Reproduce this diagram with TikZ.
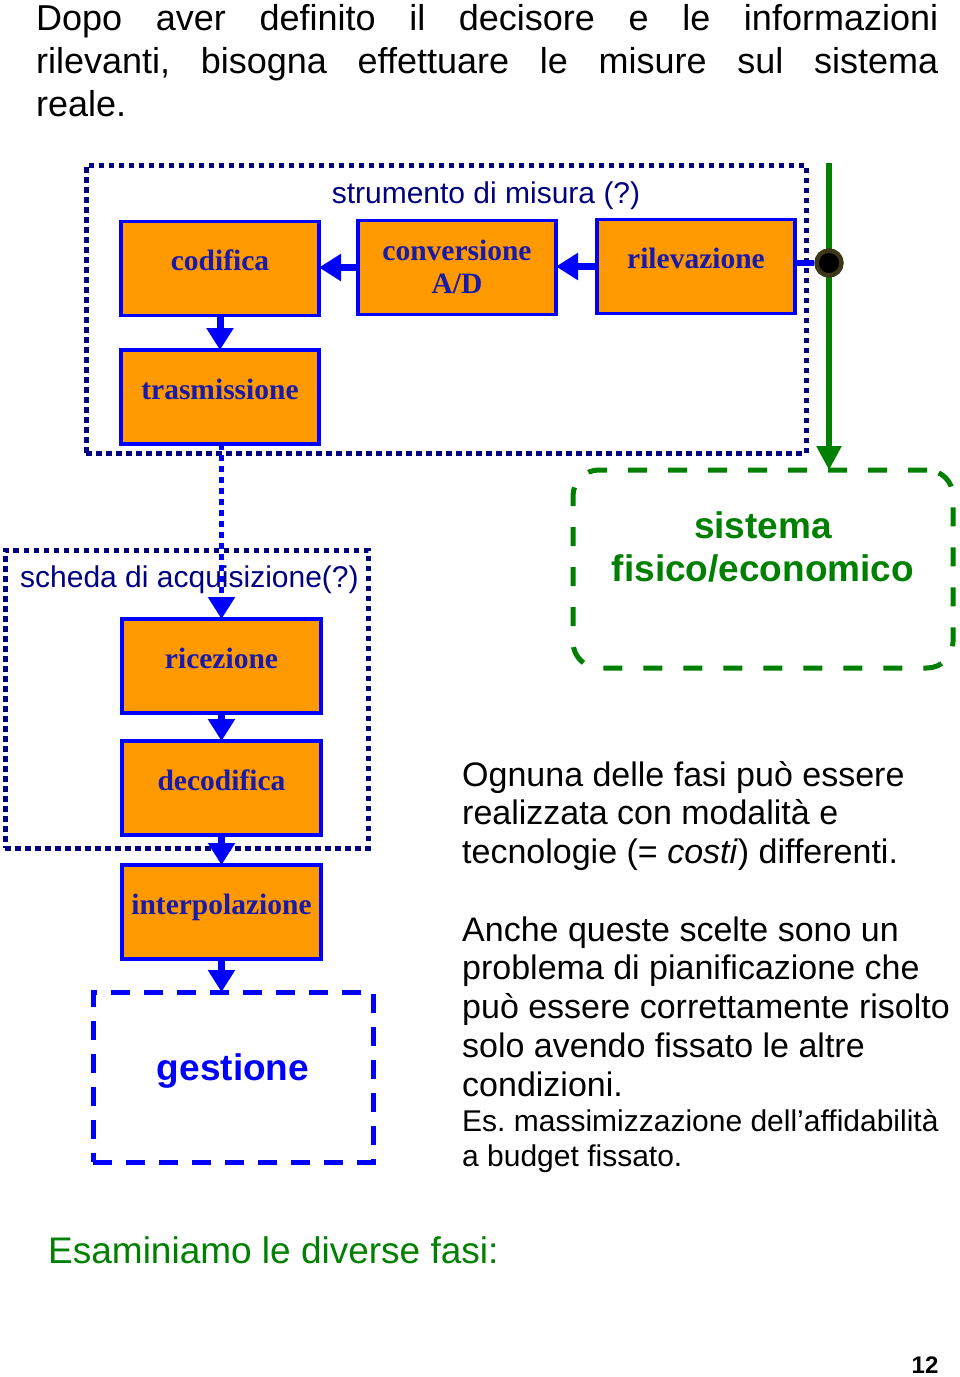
\documentclass[tikz,border=0pt]{standalone}
\usepackage{fontspec}
\setmainfont{Liberation Sans}
\newfontfamily\serifb{Liberation Serif}
\usetikzlibrary{arrows.meta,calc}
\definecolor{orangebox}{RGB}{255,153,0}
\definecolor{bblue}{RGB}{0,0,255}
\definecolor{navy}{RGB}{0,0,128}
\definecolor{boxtxt}{RGB}{25,25,170}
\definecolor{ggreen}{RGB}{0,128,0}
\definecolor{olivedark}{RGB}{60,55,25}
\frenchspacing
\begin{document}
\begin{tikzpicture}[x=1pt,y=-1pt,
  phase/.style={draw=bblue, line width=3.5pt, fill=orangebox,
    minimum width=198pt, minimum height=94pt, inner sep=0pt, outer sep=0pt,
    text=boxtxt, font=\serifb\bfseries\fontsize{29.5}{33}\selectfont,
    align=center, text height=20pt, text depth=16pt},
  flow/.style={draw=bblue, line width=7pt, -{Triangle[length=22pt,width=26pt]}},
  dotflow/.style={draw=bblue, line width=5.5pt, dash pattern=on 6pt off 5pt,
    -{Triangle[length=22pt,width=26pt]}},
  mframe/.style={draw=navy, line width=5pt, dash pattern=on 5.5pt off 4.5pt,
    inner sep=0pt, outer sep=0pt},
  gframe/.style={draw=ggreen, line width=5pt, dash pattern=on 19pt off 21pt,
    rounded corners=26pt, inner sep=0pt, outer sep=0pt},
  bframe/.style={draw=bblue, line width=5pt, dash pattern=on 19pt off 14pt,
    inner sep=0pt, outer sep=0pt},
  framelabel/.style={text=navy, font=\fontsize{30}{34}\selectfont, inner sep=0pt},
  bodytext/.style={font=\fontsize{34}{38.5}\selectfont, align=left, inner sep=0pt, anchor=base west},
]
\useasboundingbox[fill=white] (0,0) rectangle (960,1377);

% intro
\node[anchor=base west, text width=902pt, align=justify, inner sep=0pt,
  font=\fontsize{36}{43}\selectfont] (intro) at (36,30)
  {Dopo aver definito il decisore e le informazioni\linebreak rilevanti, bisogna effettuare le misure sul sistema\linebreak reale.};

% frames
\node[mframe, minimum width=720pt, minimum height=288pt] (strum) at (446,309) {};
\node[mframe, minimum width=363pt, minimum height=298pt] (scheda) at (186.5,699) {};
\node[framelabel, anchor=base] (strumlab) at (486,203) {strumento di misura (?)};
\node[framelabel, anchor=base west] (schedalab) at (20,587) {scheda di acquisizione(?)};

% phases
\node[phase] (cod) at (220,268.5) {codifica};
\node[phase, text height=55pt, text depth=4pt] (conv) at (457,267.5) {conversione\\A/D};
\node[phase] (ril) at (696,266.5) {rilevazione};
\node[phase] (tras) at (220,397) {trasmissione};
\node[phase, minimum width=199pt] (ric) at (221.5,666) {ricezione};
\node[phase, minimum width=199pt] (dec) at (221.5,788) {decodifica};
\node[phase, minimum width=199pt] (interp) at (221.5,912) {interpolazione};

% gestione
\node[bframe, minimum width=280pt, minimum height=170pt, text=bblue,
  font=\bfseries\fontsize{37}{42}\selectfont, text height=20pt, text depth=14pt]
  (gest) at (233,1077) {gestione};

% sistema
\node[gframe, minimum width=380pt, minimum height=198pt, text=ggreen, align=center,
  font=\bfseries\fontsize{37}{43}\selectfont, text height=40pt, text depth=16pt]
  (sys) at (763,569) {sistema\\fisico/economico};

% green line and sensor
\coordinate (gtop) at (829,163);
\draw[ggreen, line width=5.5pt, -{Triangle[length=24pt,width=24pt]}] (gtop) -- (gtop |- sys.north);
\node[circle, minimum size=25pt, inner sep=0pt, fill=black, draw=olivedark, line width=4.5pt] (sensor) at (829,263) {};
\draw[bblue, line width=6pt] (ril.east |- sensor.center) -- (sensor.west);

% flows
\draw[flow] (conv.west) -- (conv.west -| cod.east);
\draw[flow] (ril.west) -- (ril.west -| conv.east);
\draw[flow] (cod.south) -- (tras.north);
\draw[dotflow] (tras.south -| ric.north) -- (ric.north);
\draw[flow] (ric.south) -- (dec.north);
\draw[flow] (dec.south) -- (interp.north);
\draw[flow] (interp.south) -- (interp.south |- gest.north);

% right text (base anchor = baseline of last line)
\node[bodytext] (p1) at (462,863) {Ognuna delle fasi può essere\\realizzata con modalità e\\tecnologie (= \textit{costi}) differenti.};
\node[bodytext, font=\fontsize{34}{38.75}\selectfont] (p2) at (462,1096) {Anche queste scelte sono un\\problema di pianificazione che\\può essere correttamente risolto\\solo avendo fissato le altre\\condizioni.};
\node[bodytext, font=\fontsize{30}{35}\selectfont] (p3) at (462,1166) {Es. massimizzazione dell’affidabilità\\a budget fissato.};

% footer
\node[anchor=base west, inner sep=0pt, text=ggreen, font=\fontsize{37}{42}\selectfont] (exam) at (48,1263) {Esaminiamo le diverse fasi:};
\node[anchor=base, inner sep=0pt, font=\bfseries\fontsize{24}{28}\selectfont] (pnum) at (925,1373) {12};
\end{tikzpicture}
\end{document}
